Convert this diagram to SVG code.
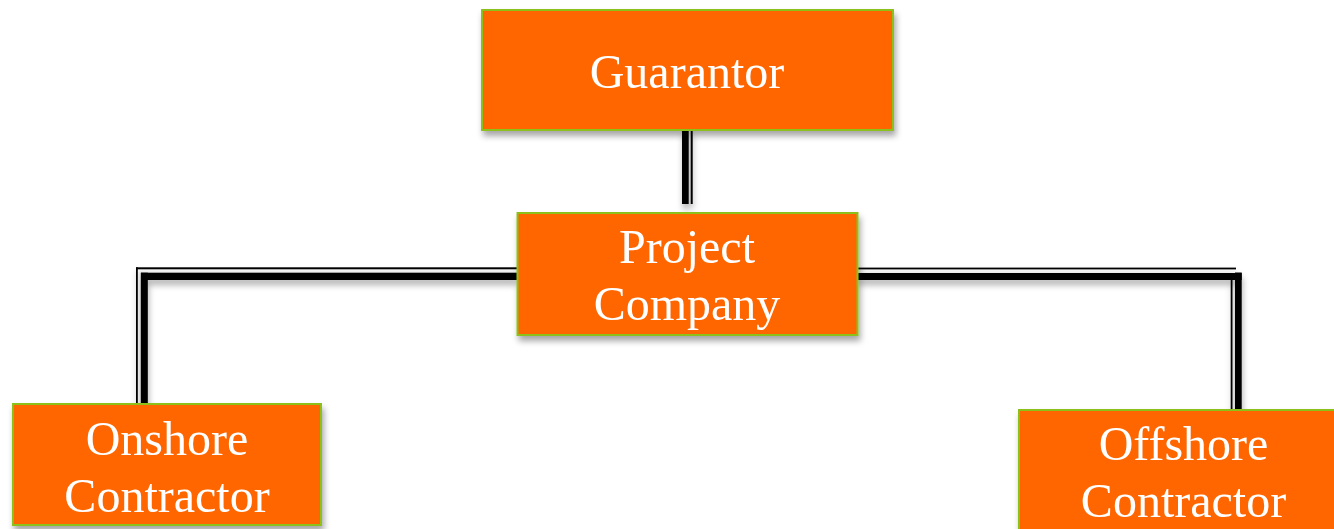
<svg xmlns="http://www.w3.org/2000/svg" width="1334" height="529" viewBox="0 0 1334 529">
  <defs>
    <filter id="shadow" x="-10%" y="-10%" width="130%" height="140%">
      <feDropShadow dx="2" dy="5" stdDeviation="3" flood-color="#000" flood-opacity="0.35"/>
    </filter>
    <filter id="lshadow" x="-20%" y="-20%" width="140%" height="160%">
      <feDropShadow dx="1" dy="5" stdDeviation="3" flood-color="#000" flood-opacity="0.3"/>
    </filter>
  </defs>
  <style>
    .box { fill: #FF6600; stroke: #8CC11F; stroke-width: 2; }
    .lbl { fill: #FFFFFF; font-family: "Liberation Serif", "Times New Roman", serif; font-size: 48px; text-anchor: middle; }
    .thick { stroke: #000; fill: none; stroke-linecap: butt; }
    .thin { stroke: #000; fill: none; stroke-width: 2; stroke-linecap: butt; }
  </style>
  <rect width="1334" height="529" fill="#FFFFFF"/>
  <g id="connectors" filter="url(#lshadow)">
    <!-- Guarantor to Project Company -->
    <rect x="682" y="130" width="6.7" height="74" fill="#000"/>
    <rect x="690.7" y="130" width="2" height="74" fill="#000"/>
    <!-- Left: Project Company to Onshore -->
    <rect x="136" y="267.3" width="381" height="2" fill="#000"/>
    <rect x="141" y="272.7" width="376" height="7.3" fill="#000"/>
    <rect x="136" y="267.3" width="1.8" height="136" fill="#000"/>
    <rect x="140.8" y="272.7" width="7" height="131" fill="#000"/>
    <!-- Right: Project Company to Offshore -->
    <rect x="857" y="267.6" width="379" height="1.8" fill="#000"/>
    <rect x="857" y="273" width="384.7" height="7" fill="#000"/>
    <rect x="1230.7" y="280" width="1.8" height="129" fill="#000"/>
    <rect x="1235" y="272.5" width="6.7" height="136.5" fill="#000"/>
  </g>
  <g id="guarantor" filter="url(#shadow)">
    <rect class="box" x="482" y="10" width="411" height="120"/>
    <text class="lbl" x="687" y="88">Guarantor</text>
  </g>
  <g id="project-company" filter="url(#shadow)">
    <rect class="box" x="517.5" y="213" width="340" height="122"/>
    <text class="lbl" x="687" y="263">Project</text>
    <text class="lbl" x="687" y="320">Company</text>
  </g>
  <g id="onshore-contractor" filter="url(#shadow)">
    <rect class="box" x="13" y="404" width="308" height="121"/>
    <text class="lbl" x="167" y="455">Onshore</text>
    <text class="lbl" x="167" y="512">Contractor</text>
  </g>
  <g id="offshore-contractor" filter="url(#shadow)">
    <rect class="box" x="1019" y="410" width="329" height="125"/>
    <text class="lbl" x="1183.5" y="460">Offshore</text>
    <text class="lbl" x="1183.5" y="517">Contractor</text>
  </g>
</svg>
